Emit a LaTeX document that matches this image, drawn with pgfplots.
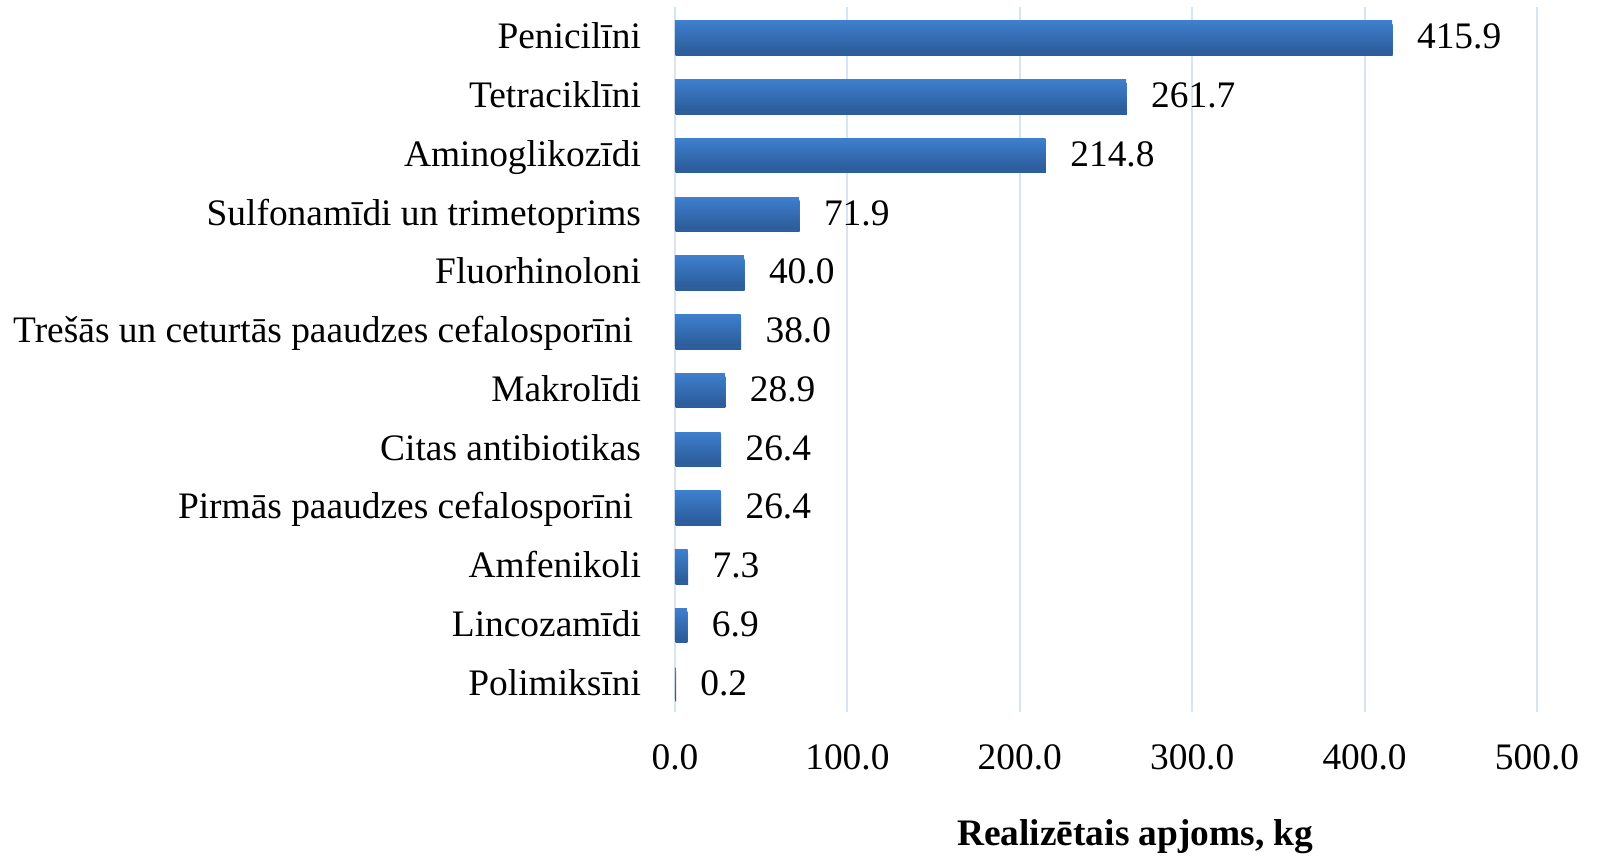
\documentclass[border=0pt]{standalone}
\usepackage{fontspec}
\setmainfont{Liberation Serif}
\usepackage{pgfplots}
\pgfplotsset{compat=1.18}
\definecolor{bartop}{RGB}{62,127,206}
\definecolor{barbot}{RGB}{44,92,154}
\definecolor{gridblue}{RGB}{217,228,242}
\newcommand{\fs}{\fontsize{18.7}{22}\selectfont}
\pgfplotsset{mybar/.style={draw=none, top color=bartop, bottom color=barbot, bar shift=0pt,
  preaction={fill=black!9, transform canvas={shift={(0.3pt,-1.8pt)}}}}}
\begin{document}
\begin{tikzpicture}
\useasboundingbox (0,0) rectangle (800.5pt,428.5pt);
\begin{axis}[
  at={(337.5pt,72.5pt)}, anchor=south west,
  scale only axis, width=431pt, height=352.5pt,
  xbar, bar width=15.5pt,
  xmin=0, xmax=500, ymin=-0.5, ymax=11.5,
  xtick={0,100,200,300,400,500},
  ytick={0,...,11},
  yticklabels={Polimiksīni, Lincozamīdi, Amfenikoli, {Pirmās paaudzes cefalosporīni\rule{4pt}{0pt}}, Citas antibiotikas, Makrolīdi, {Trešās un ceturtās paaudzes cefalosporīni\rule{4pt}{0pt}}, Fluorhinoloni, Sulfonamīdi un trimetoprims, Aminoglikozīdi, Tetraciklīni, Penicilīni},
  /pgf/number format/.cd, fixed, fixed zerofill, precision=1, assume math mode=true,
  /pgfplots/.cd,
  major tick length=0pt,
  axis line style={draw=none},
  xmajorgrids, grid style={color=gridblue, line width=1pt},
  xticklabel style={font=\fs, anchor=center, yshift=-22.5pt},
  yticklabel style={font=\fs, anchor=base east, xshift=-13.5pt, yshift=-6.3pt},
  xlabel={\textbf{Realizētais apjoms, kg}},
  xlabel style={font=\fs, at={(rel axis cs:0.534,0)}, anchor=center, yshift=-62.5pt},
  nodes near coords={\pgfmathprintnumber[fixed,fixed zerofill,precision=1,assume math mode=true]{\pgfplotspointmeta}},
  point meta=x,
  nodes near coords style={font=\fs, anchor=base west, xshift=9pt, yshift=-6.3pt, text=black},
]
\addplot[mybar] coordinates {(0.2,0)};
\addplot[mybar] coordinates {(6.9,1)};
\addplot[mybar] coordinates {(7.3,2)};
\addplot[mybar] coordinates {(26.4,3)};
\addplot[mybar] coordinates {(26.4,4)};
\addplot[mybar] coordinates {(28.9,5)};
\addplot[mybar] coordinates {(38.0,6)};
\addplot[mybar] coordinates {(40.0,7)};
\addplot[mybar] coordinates {(71.9,8)};
\addplot[mybar] coordinates {(214.8,9)};
\addplot[mybar] coordinates {(261.7,10)};
\addplot[mybar] coordinates {(415.9,11)};
\end{axis}
\end{tikzpicture}
\end{document}
